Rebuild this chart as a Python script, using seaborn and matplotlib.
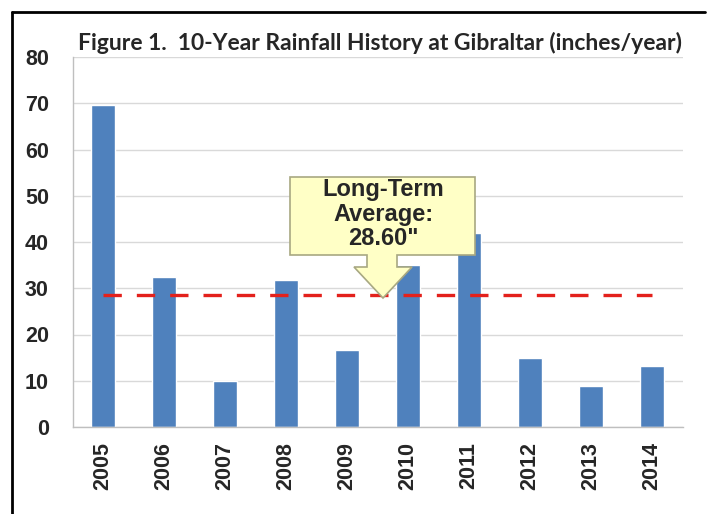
import matplotlib
matplotlib.use("Agg")
import matplotlib.pyplot as plt
import seaborn as sns
import pandas as pd
from matplotlib.patches import Polygon
from matplotlib.lines import Line2D
from matplotlib.ticker import FixedLocator

# ---- data ----
years = ["2005", "2006", "2007", "2008", "2009", "2010", "2011", "2012", "2013", "2014"]
rainfall = [69.6, 32.4, 9.9, 31.8, 16.6, 35.0, 41.9, 14.9, 8.9, 13.2]
long_term_avg = 28.60
y_ticks = [0, 10, 20, 30, 40, 50, 60, 70, 80]
title = "Figure 1.  10-Year Rainfall History at Gibraltar (inches/year)"
callout_text = "Long-Term\nAverage:\n28.60\""

df = pd.DataFrame({"year": years, "rain": rainfall})

sns.set_style("white")
plt.rcParams["font.family"] = ["Liberation Sans", "DejaVu Sans"]

W, H = 708, 514
fig = plt.figure(figsize=(W / 100, H / 100), dpi=100)
ax = fig.add_axes([72.5 / W, (H - 427) / H, 610 / W, 370 / H])

sns.barplot(data=df, x="year", y="rain", color="#4f81bd", saturation=1,
            width=0.4, ax=ax, zorder=2)
ax.plot(range(len(years)), [long_term_avg] * len(years), color="#e3211c",
        lw=2.4, dashes=(5.5, 4.5), zorder=3)

ax.set_xlim(-0.5, len(years) - 0.5)
ax.set_ylim(0, 80)
ax.set_yticks(y_ticks)
ax.set_xlabel("")
ax.set_ylabel("")
ax.yaxis.grid(True, color="#d9d9d9", lw=1)
ax.set_axisbelow(True)
for s in ["top", "right"]:
    ax.spines[s].set_visible(False)
for s in ["left", "bottom"]:
    ax.spines[s].set_color("#bfbfbf")
    ax.spines[s].set_linewidth(1)

ax.xaxis.set_minor_locator(FixedLocator([i - 0.5 for i in range(len(years) + 1)]))
ax.tick_params(axis="x", which="major", length=0, pad=11)
ax.tick_params(axis="x", which="minor", length=6, color="#bfbfbf", width=1)
ax.tick_params(axis="y", length=6, color="#bfbfbf", width=1, pad=11)
for lab in ax.get_xticklabels():
    lab.set_rotation(90)
    lab.set_fontsize(15.5)
    lab.set_fontweight("bold")
for lab in ax.get_yticklabels():
    lab.set_fontsize(15.5)
    lab.set_fontweight("bold")

# title fitted to its width in the reference
t = fig.text(380.5 / W, (H - 50) / H, title, ha="center", va="baseline",
             family="Lato", fontweight="bold", fontsize=15)
fig.canvas.draw()
r = fig.canvas.get_renderer()
w = t.get_window_extent(r).width
t.set_fontsize(15 * 605 / w)

# callout (down arrow callout), coordinates in axes data space
def px2d(px, py):
    return ((px - 72.5) / 61 - 0.5, (427 - py) / 4.625)

pts = [(290, 177), (475, 177), (475, 255), (397, 255), (397, 267), (412, 267),
       (383, 298), (354, 267), (367, 267), (367, 255), (290, 255)]
poly = Polygon([px2d(*p) for p in pts], closed=True, facecolor="#ffffc6",
               edgecolor="#a8a882", lw=1.2, zorder=5)
ax.add_patch(poly)
cx, cy = px2d(383, 214)
ax.text(cx, cy, callout_text, ha="center", va="center", fontsize=17,
        fontweight="bold", linespacing=1.1, zorder=6)

# document frame
fig.add_artist(Line2D([12 / W, 705 / W], [(H - 12) / H] * 2, color="black",
                      lw=2, transform=fig.transFigure))
fig.add_artist(Line2D([12 / W, 12 / W], [(H - 12) / H, 0], color="black",
                      lw=2, transform=fig.transFigure))

fig.savefig("out.png", dpi=100)
